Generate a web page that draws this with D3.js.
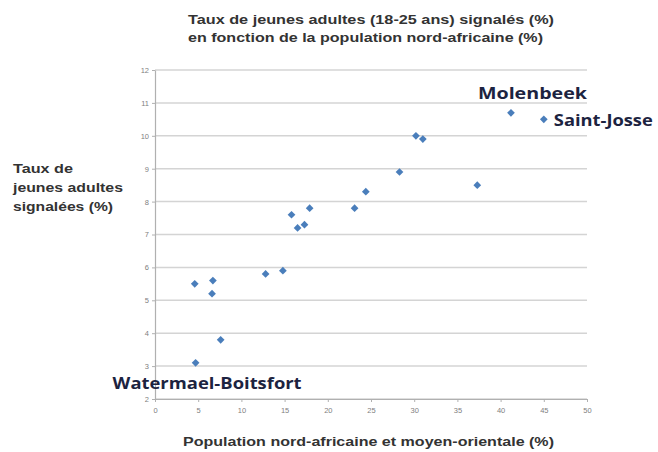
<!DOCTYPE html>
<html>
<head>
<meta charset="utf-8">
<script src="https://cdn.jsdelivr.net/npm/d3@7"></script>
<style>
  body { margin: 0; background: #fff; }
  svg { display: block; }
</style>
</head>
<body>
<div id="chart"></div>
<script>
// population nord-africaine (%) vs taux de jeunes adultes signalés (%)
const popNA = [4.6, 6.7, 6.6, 7.6, 4.7, 12.8, 14.8, 15.8, 16.5, 17.3, 17.9, 23.1, 24.4, 28.3, 30.2, 31.0, 37.3, 41.2, 45.0];
const tauxJeunes = [5.5, 5.6, 5.2, 3.8, 3.1, 5.8, 5.9, 7.6, 7.2, 7.3, 7.8, 7.8, 8.3, 8.9, 10.0, 9.9, 8.5, 10.7, 10.5];
const xTicks = [0, 5, 10, 15, 20, 25, 30, 35, 40, 45, 50];
const yTicks = [2, 3, 4, 5, 6, 7, 8, 9, 10, 11, 12];
// annotated communes (index into the arrays above)
const labelNames = ["Molenbeek", "Saint-Josse", "Watermael-Boitsfort"];
const labelIdx = [17, 18, 4];

const W = 658, H = 452;
const margin = { top: 70, right: 71, bottom: 53, left: 155 };
const width = W - margin.left - margin.right,
      height = H - margin.top - margin.bottom;

const svg = d3.select("#chart").append("svg")
  .attr("width", W)
  .attr("height", H);

const g = svg.append("g")
  .attr("transform", `translate(${margin.left}, ${margin.top})`);

const x = d3.scaleLinear().domain([0, 50]).range([0, width]);
const y = d3.scaleLinear().domain([2, 12]).range([height, 0]);

// horizontal gridlines
g.append("g")
  .selectAll("line")
  .data(yTicks)
  .join("line")
    .attr("x1", 0)
    .attr("x2", width)
    .attr("y1", d => y(d))
    .attr("y2", d => y(d))
    .attr("stroke", "#d4d4d4")
    .attr("stroke-width", 1.5);

// x-axis
const xAxis = g.append("g")
  .attr("transform", `translate(0, ${height})`)
  .call(d3.axisBottom(x).tickValues(xTicks).tickSize(3).tickPadding(6).tickSizeOuter(0));
// y-axis
const yAxis = g.append("g")
  .call(d3.axisLeft(y).tickValues(yTicks).tickSize(3).tickPadding(3).tickSizeOuter(0));

[xAxis, yAxis].forEach(a => {
  a.select(".domain").attr("stroke", "#b0b0b0").attr("stroke-width", 1.2);
  a.selectAll(".tick line").attr("stroke", "#b0b0b0");
  a.selectAll(".tick text")
    .attr("fill", "#808080")
    .style("font-family", "Liberation Sans, Arial, sans-serif")
    .style("font-size", "7.5px");
});

// diamond markers
const diamond = d3.symbol().type(d3.symbolDiamond2).size(38);
g.append("g")
  .selectAll("path")
  .data(popNA.map((v, i) => [v, tauxJeunes[i]]))
  .join("path")
    .attr("d", diamond)
    .attr("transform", d => `translate(${x(d[0])}, ${y(d[1])})`)
    .attr("fill", "#4a7ebb");

// commune labels: offset from their point, and width (text is stretched like the source)
const labelStyle = {
  "Molenbeek":           { dx: -33, dy: -14, len: 109 },
  "Saint-Josse":         { dx: 10,  dy: 7,   len: 99 },
  "Watermael-Boitsfort": { dx: -83, dy: 26,  len: 189 }
};
g.append("g")
  .selectAll("text")
  .data(labelNames.map((n, i) => ({ name: n, idx: labelIdx[i] })))
  .join("text")
    .attr("x", d => x(popNA[d.idx]) + labelStyle[d.name].dx)
    .attr("y", d => y(tauxJeunes[d.idx]) + labelStyle[d.name].dy)
    .attr("textLength", d => labelStyle[d.name].len)
    .attr("lengthAdjust", "spacingAndGlyphs")
    .attr("fill", "#1c2340")
    .style("font-family", "Open Sans, Noto Sans, sans-serif")
    .style("font-weight", "bold")
    .style("font-size", "16.5px")
    .text(d => d.name);

// titles
const titleFont = "Liberation Sans, Arial, sans-serif";
function boldText(tx, ty, len, str) {
  return svg.append("text")
    .attr("x", tx).attr("y", ty)
    .attr("textLength", len)
    .attr("lengthAdjust", "spacingAndGlyphs")
    .attr("fill", "#333")
    .style("font-family", titleFont).style("font-weight", "bold").style("font-size", "13.5px")
    .text(str);
}
boldText(188, 24, 366, "Taux de jeunes adultes (18-25 ans) signalés (%)");
boldText(188, 42, 355, "en fonction de la population nord-africaine (%)");

// y label
boldText(13, 173, 60, "Taux de");
boldText(13, 192, 110, "jeunes adultes");
boldText(13, 211, 100, "signalées (%)");

// x label
boldText(183, 446, 371, "Population nord-africaine et moyen-orientale (%)");
</script>
</body>
</html>
